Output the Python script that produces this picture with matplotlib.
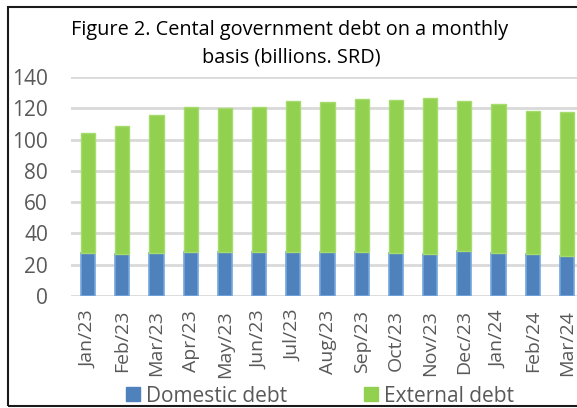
import matplotlib.pyplot as plt
from matplotlib.patches import Rectangle, Patch

months = ["Jan/23", "Feb/23", "Mar/23", "Apr/23", "May/23", "Jun/23", "Jul/23",
          "Aug/23", "Sep/23", "Oct/23", "Nov/23", "Dec/23", "Jan/24", "Feb/24", "Mar/24"]
domestic = [27.3, 26.9, 27.7, 28.4, 28.4, 28.0, 28.4, 28.4, 28.4, 27.3, 27.1, 28.5, 27.5, 26.9, 25.8]
total = [104.5, 108.4, 115.4, 121.0, 120.4, 121.0, 124.4, 124.2, 125.9, 125.5, 126.5, 124.8, 122.7, 118.4, 117.8]
external = [t - d for t, d in zip(total, domestic)]

yticks = list(range(0, 141, 20))

W, H = 577, 408
fig = plt.figure(figsize=(W / 100, H / 100), dpi=100)
plt.rcParams["font.family"] = ["Open Sans", "DejaVu Sans"]

ax = fig.add_axes([71 / W, (H - 296) / H, 513 / W, 219 / H])
x = range(len(months))
ax.bar(x, domestic, width=0.42, color="#4F81BD", edgecolor="#74A7DC", linewidth=1.2, zorder=3)
ax.bar(x, external, bottom=domestic, width=0.42, color="#92D050", edgecolor="#A6DC6E",
       linewidth=1.0, zorder=3)

ax.set_xlim(-0.5, len(months) - 0.5)
ax.set_ylim(0, 140)
ax.set_yticks(yticks)
ax.set_yticklabels([str(v) for v in yticks], fontsize=15, color="#595959")
ax.set_xticks(list(x))
ax.set_xticklabels(months, rotation=90, fontsize=14, color="#595959")
ax.tick_params(length=0, axis="both")
ax.tick_params(axis="y", pad=16.5)
ax.tick_params(axis="x", pad=10)
ax.grid(axis="y", color="#D9D9D9", linewidth=2, zorder=0)
for s in ax.spines.values():
    s.set_visible(False)

fig.text(290 / W, 1 - 35 / H, "Figure 2. Cental government debt on a monthly",
         ha="center", va="baseline", fontsize=14.3, color="#000000")
fig.text(291 / W, 1 - 62 / H, "basis (billions. SRD)",
         ha="center", va="baseline", fontsize=14.3, color="#000000")

handles = [Patch(facecolor="#4F81BD", edgecolor="#4F81BD"),
           Patch(facecolor="#92D050", edgecolor="#92D050")]
fig.legend(handles, ["Domestic debt", "External debt"], loc="center",
           bbox_to_anchor=(320 / W, 1 - 396 / H), ncol=2, frameon=False,
           fontsize=15, handlelength=0.65, handleheight=0.65, handletextpad=0.3,
           columnspacing=3.7, labelcolor="#595959", borderpad=0)

fig.patches.append(Rectangle((7.5 / W, 1 - 406 / H), 600 / W, 399 / H,
                             transform=fig.transFigure, fill=False,
                             edgecolor="#1a1a1a", linewidth=1.5))

fig.savefig("out.png", dpi=100)
